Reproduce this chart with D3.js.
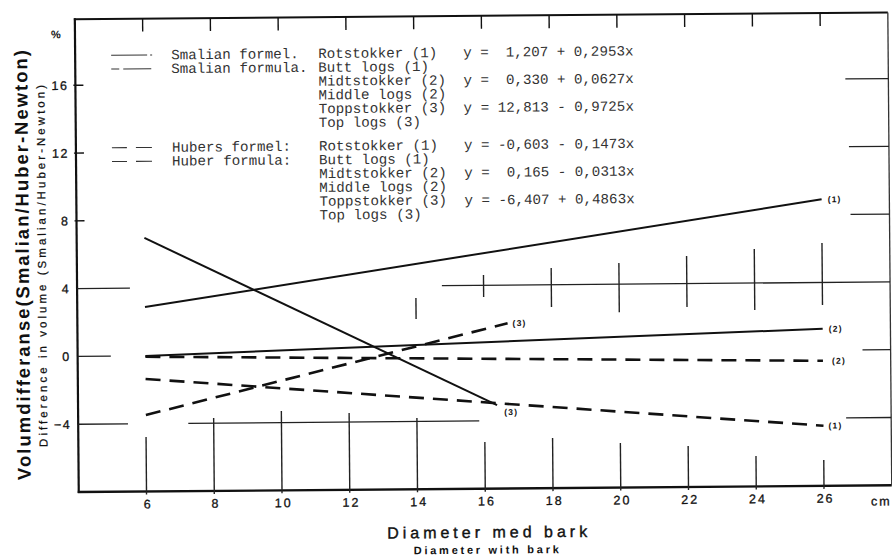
<!DOCTYPE html>
<html>
<head>
<meta charset="utf-8">
<script src="https://cdn.jsdelivr.net/npm/d3@7"></script>
<style>
  body { margin: 0; background: #fff; }
  svg { display: block; }
  .sans { font-family: "Liberation Sans", Arial, sans-serif; fill: #111; }
  .mono { font-family: "Liberation Mono", "Courier New", monospace; fill: #333; font-size: 14.2px; }
</style>
</head>
<body>
<svg id="chart" width="892" height="556"></svg>
<script>
// --- data ---
const xTicks = [6, 8, 10, 12, 14, 16, 18, 20, 22, 24, 26];
const yTicks = [-4, 0, 4, 8, 12, 16];
const leftShortTicks = [8, 12, 16];

const lineLabels = ['(1)', '(2)', '(3)'];
// Smalian (solid) lines, start/end points
const smalianX = [[6, 26], [6, 26], [6, 16.37]];
const smalianY = [[2.88, 8.91], [0.0, 1.27], [6.96, -3.08]];
// Huber (dashed) lines
const huberX = [[6, 26], [6, 26], [6, 16.7]];
const huberY = [[-1.36, -4.45], [-0.05, -0.62], [-3.49, 1.75]];

const methodNames = [['Smalian formel.', 'Smalian formula.'], ['Hubers formel:', 'Huber formula:']];
const logClasses = ['Rotstokker (1)', 'Butt logs (1)', 'Midtstokker (2)', 'Middle logs (2)', 'Toppstokker (3)', 'Top logs (3)'];
const smalianEq = ['y =  1,207 + 0,2953x', 'y =  0,330 + 0,0627x', 'y = 12,813 - 0,9725x'];
const huberEq = ['y = -0,603 - 0,1473x', 'y =  0,165 - 0,0313x', 'y = -6,407 + 0,4863x'];

// leftover grid pieces printed in the original: [y, x0, x1]
const gridH = [[4, 4, 5.56], [4, 14.77, 28], [0, 4, 4.98], [0, 27.17, 28], [-4, 4, 5.47],
  [-4, 7.25, 15.84], [-4, 26.67, 28], [8, 26.85, 28], [12, 26.82, 28], [16, 26.73, 28]];
// vertical pieces rising from the bottom axis: [x, top y]
const gridVLow = [[6, -4.78], [8, -3.7], [10, -3.32], [12, -3.47], [14, -3.8], [16, -5.25],
  [18, -5.04], [20, -5.37], [22, -5.58], [24, -6.21], [26, -6.47]];
// vertical pieces around y = 4: [x, y0, y1]
const gridVMid = [[14, 2.04, 3.29], [16, 3.31, 4.61], [18, 2.68, 4.99], [20, 2.35, 5.25],
  [22, 2.62, 5.63], [24, 2.41, 6.01], [26, 2.67, 6.33]];

const svg = d3.select('#chart');
// the scan is turned a little, the right side sits higher
const root = svg.append('g').attr('transform', 'rotate(-0.475, 446, 278)');

const x = d3.scaleLinear().domain([4, 28]).range([77, 890]);
const y = d3.scaleLinear().domain([-8, 20]).range([489, 14.4]);
const yTop = y(19.9);

// frame
root.append('line').attr('x1', x(4)).attr('x2', x(4)).attr('y1', yTop - 1).attr('y2', y(-8) + 1)
  .attr('stroke', '#111').attr('stroke-width', 2.2);
root.append('line').attr('x1', x(4) - 1).attr('x2', x(28)).attr('y1', y(-8)).attr('y2', y(-8))
  .attr('stroke', '#111').attr('stroke-width', 2.4);
root.append('line').attr('x1', x(4) - 1).attr('x2', x(28)).attr('y1', yTop).attr('y2', yTop)
  .attr('stroke', '#111').attr('stroke-width', 2);
root.append('line').attr('x1', x(28)).attr('x2', x(28)).attr('y1', yTop).attr('y2', y(-8))
  .attr('stroke', '#333').attr('stroke-width', 1.3);

// top ticks pointing down
root.selectAll('.top-tick').data(xTicks).join('line')
  .attr('class', 'top-tick')
  .attr('x1', d => x(d)).attr('x2', d => x(d))
  .attr('y1', yTop).attr('y2', yTop + 13)
  .attr('stroke', '#111').attr('stroke-width', 1.4);

// short left ticks
root.selectAll('.left-tick').data(leftShortTicks).join('line')
  .attr('class', 'left-tick')
  .attr('x1', x(4) - 2).attr('x2', x(4) + 8)
  .attr('y1', d => y(d)).attr('y2', d => y(d))
  .attr('stroke', '#111').attr('stroke-width', 1.4);

// grid pieces
root.selectAll('.gh').data(gridH).join('line')
  .attr('class', 'gh')
  .attr('x1', d => x(d[1])).attr('x2', d => x(d[2]))
  .attr('y1', d => y(d[0])).attr('y2', d => y(d[0]))
  .attr('stroke', '#222').attr('stroke-width', 1.3);
root.selectAll('.gvl').data(gridVLow).join('line')
  .attr('class', 'gvl')
  .attr('x1', d => x(d[0])).attr('x2', d => x(d[0]))
  .attr('y1', y(-8) + 3).attr('y2', d => y(d[1]))
  .attr('stroke', '#222').attr('stroke-width', 1.4);
root.selectAll('.gvm').data(gridVMid).join('line')
  .attr('class', 'gvm')
  .attr('x1', d => x(d[0])).attr('x2', d => x(d[0]))
  .attr('y1', d => y(d[1])).attr('y2', d => y(d[2]))
  .attr('stroke', '#222').attr('stroke-width', 1.4);

// axis labels through d3 axes
const xAxis = root.append('g')
  .attr('transform', `translate(0,${y(-8)})`)
  .call(d3.axisBottom(x).tickValues(xTicks).tickSize(0).tickPadding(8).tickFormat(d3.format('d')));
xAxis.select('.domain').remove();
xAxis.selectAll('text')
  .attr('class', 'sans')
  .style('font-size', '12.5px').style('letter-spacing', '2px')
  .style('stroke', '#111').style('stroke-width', '0.3px')
  .attr('dx', '1px');

const yAxis = root.append('g')
  .attr('transform', `translate(${x(4)},0)`)
  .call(d3.axisLeft(y).tickValues(yTicks).tickSize(0).tickPadding(7).tickFormat(d3.format('d')));
yAxis.select('.domain').remove();
yAxis.selectAll('text')
  .attr('class', 'sans')
  .style('font-size', '12.5px').style('letter-spacing', '1.5px')
  .style('stroke', '#111').style('stroke-width', '0.3px');

// regression lines
const line = d3.line().x(d => x(d[0])).y(d => y(d[1]));
const toPts = (xs, ys) => xs.map((v, i) => [v, ys[i]]);
const smalian = smalianX.map((xs, i) => ({ label: lineLabels[i], pts: toPts(xs, smalianY[i]) }));
const huber = huberX.map((xs, i) => ({ label: lineLabels[i], pts: toPts(xs, huberY[i]) }));

root.selectAll('.smalian').data(smalian).join('path')
  .attr('class', 'smalian')
  .attr('d', d => line(d.pts))
  .attr('fill', 'none').attr('stroke', '#111').attr('stroke-width', 2);
root.selectAll('.huber').data(huber).join('path')
  .attr('class', 'huber')
  .attr('d', d => line(d.pts))
  .attr('fill', 'none').attr('stroke', '#111').attr('stroke-width', 2.6)
  .attr('stroke-dasharray', '15 9');

// end labels
root.selectAll('.slab').data(smalian).join('text')
  .attr('class', 'sans slab')
  .attr('x', (d, i) => x(d.pts[1][0]) + (i === 2 ? 7 : 6))
  .attr('y', (d, i) => y(d.pts[1][1]) + (i === 2 ? 7 : 0))
  .attr('dy', '0.35em')
  .style('font-size', '8.5px').style('font-weight', 'bold').style('letter-spacing', '1.2px')
  .text(d => d.label);
root.selectAll('.hlab').data(huber).join('text')
  .attr('class', 'sans hlab')
  .attr('x', (d, i) => x(d.pts[1][0]) + (i === 1 ? 9 : 5))
  .attr('y', d => y(d.pts[1][1]))
  .attr('dy', '0.35em')
  .style('font-size', '8.5px').style('font-weight', 'bold').style('letter-spacing', '1.2px')
  .text(d => d.label);

// legend block
const rowH = 13.8;
const legendGroups = [
  { top: 57, names: methodNames[0], eqs: smalianEq, samples: ['36 3 2', '8 4 28'] },
  { top: 149.5, names: methodNames[1], eqs: huberEq, samples: ['15 9 16', '15 9 16'] }
];
legendGroups.forEach(g => {
  const lg = root.append('g').attr('transform', `translate(0,${g.top})`);
  lg.selectAll('.sample').data(g.samples).join('line')
    .attr('x1', 113).attr('x2', 154)
    .attr('y1', (d, i) => i * rowH - 4.5).attr('y2', (d, i) => i * rowH - 4.5)
    .attr('stroke', '#333').attr('stroke-width', 1.1)
    .attr('stroke-dasharray', d => d);
  lg.selectAll('.name').data(g.names).join('text')
    .attr('class', 'mono')
    .attr('x', 173).attr('y', (d, i) => i * rowH)
    .text(d => d);
  lg.selectAll('.cls').data(logClasses).join('text')
    .attr('class', 'mono')
    .attr('x', 320).attr('y', (d, i) => i * rowH)
    .text(d => d);
  lg.selectAll('.eq').data(g.eqs).join('text')
    .attr('class', 'mono')
    .attr('x', 465).attr('y', (d, i) => i * 2 * rowH)
    .style('white-space', 'pre')
    .text(d => d);
});

// titles
root.append('text').attr('class', 'sans')
  .attr('transform', 'translate(29,261.5) rotate(-90)')
  .attr('text-anchor', 'middle')
  .attr('textLength', 430).attr('lengthAdjust', 'spacing')
  .style('font-size', '18.5px').style('font-weight', 'bold')
  .text('Volumdifferanse(Smalian/Huber-Newton)');
root.append('text').attr('class', 'sans')
  .attr('transform', 'translate(46,262.6) rotate(-90)')
  .attr('text-anchor', 'middle')
  .attr('textLength', 362).attr('lengthAdjust', 'spacing')
  .style('font-size', '11.5px')
  .style('stroke', '#111').style('stroke-width', '0.25px')
  .text('Difference in volume (Smalian/Huber-Newton)');
root.append('text').attr('class', 'sans')
  .attr('x', 58).attr('y', 35).attr('text-anchor', 'middle')
  .style('font-size', '11px').style('font-weight', 'bold')
  .text('%');

root.append('text').attr('class', 'sans')
  .attr('x', 485).attr('y', 538).attr('text-anchor', 'middle')
  .attr('textLength', 200).attr('lengthAdjust', 'spacing')
  .style('font-size', '16px')
  .style('stroke', '#111').style('stroke-width', '0.4px')
  .text('Diameter med bark');
root.append('text').attr('class', 'sans')
  .attr('x', 484).attr('y', 554).attr('text-anchor', 'middle')
  .attr('textLength', 145).attr('lengthAdjust', 'spacing')
  .style('font-size', '11px').style('font-weight', 'bold')
  .text('Diameter with bark');
root.append('text').attr('class', 'sans')
  .attr('x', 869).attr('y', 509)
  .style('font-size', '12.5px').style('letter-spacing', '2px')
  .style('stroke', '#111').style('stroke-width', '0.3px')
  .text('cm');
</script>
</body>
</html>
